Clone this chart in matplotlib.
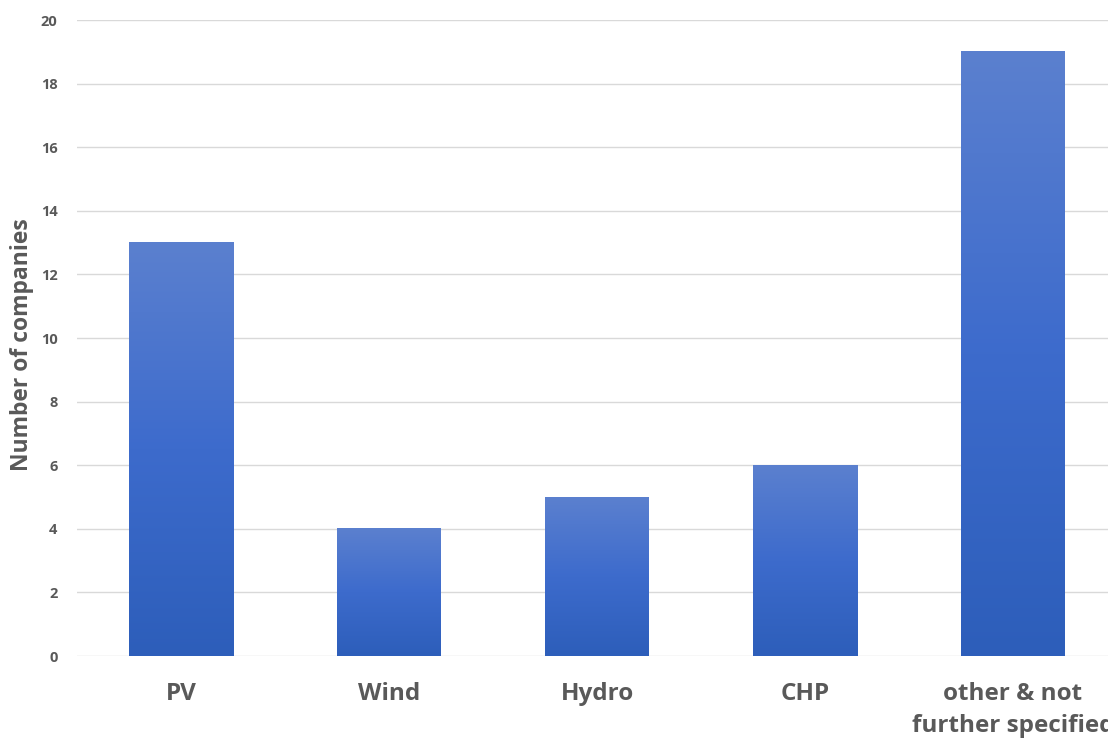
import matplotlib.pyplot as plt
import numpy as np
from matplotlib.colors import LinearSegmentedColormap

categories = ['PV', 'Wind', 'Hydro', 'CHP', 'other & not\nfurther specified']
companies = [13, 4, 5, 6, 19]
y_ticks = [0, 2, 4, 6, 8, 10, 12, 14, 16, 18, 20]

plt.rcParams['font.family'] = ['Open Sans', 'DejaVu Sans']
text_color = '#595959'

fig = plt.figure(figsize=(11.08, 7.4), dpi=100)
# plot area runs slightly past the right edge, as in the original
ax = fig.add_axes([77 / 1108, 84 / 740, 1040 / 1108, 636 / 740])

x = np.arange(len(categories))
bars = ax.bar(x, companies, width=0.5, color='none', zorder=2)

# vertical gradient in each bar, light at top, dark at bottom
cmap = LinearSegmentedColormap.from_list('bar_grad', ['#2d5eba', '#3d6bcc', '#5b80cf'])
grad = np.linspace(0, 1, 256).reshape(-1, 1)
for b in bars:
    x0, w, h = b.get_x(), b.get_width(), b.get_height()
    ax.imshow(grad, extent=[x0, x0 + w, 0, h], origin='lower', cmap=cmap,
              aspect='auto', zorder=2, interpolation='bicubic')

ax.set_xlim(-0.5, len(categories) - 0.5)
ax.set_ylim(0, 20)
ax.set_yticks(y_ticks)
ax.set_xticks(x)
ax.set_xticklabels(categories, fontsize=17.5, fontweight='bold', color=text_color,
                   linespacing=1.4)
ax.tick_params(axis='x', length=0, pad=19)
ax.tick_params(axis='y', length=0, pad=14, labelsize=10.5, labelcolor=text_color)
for lbl in ax.get_yticklabels():
    lbl.set_fontweight('bold')

ax.grid(axis='y', color='#d9d9d9', linewidth=1, zorder=0)
ax.set_axisbelow(True)
for s in ax.spines.values():
    s.set_visible(False)

ax.set_ylabel('Number of companies', fontsize=16.5, fontweight='bold', color=text_color)
ax.yaxis.set_label_coords(-0.041, 0.49)

fig.savefig('out.png', dpi=100)
